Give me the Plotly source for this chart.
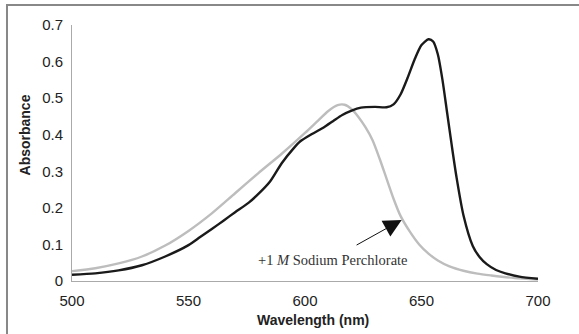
import plotly.graph_objects as go

# Data: absorbance spectra
wl_black = [500, 510, 520, 530, 540, 550, 555, 560, 565, 570, 576, 580, 585, 590, 595, 598,
            603, 608, 612, 616, 620, 624, 630, 635, 638, 641, 644, 647, 650, 653, 655,
            657, 659, 661, 663, 665, 668, 672, 675, 678, 682, 686, 692, 700]
abs_black = [0.017, 0.021, 0.029, 0.043, 0.067, 0.098, 0.120, 0.142, 0.165, 0.188, 0.215,
             0.238, 0.272, 0.322, 0.362, 0.382, 0.402, 0.420, 0.437, 0.454, 0.466, 0.474,
             0.476, 0.475, 0.483, 0.510, 0.555, 0.605, 0.645, 0.661, 0.655, 0.620, 0.550,
             0.460, 0.370, 0.285, 0.180, 0.096, 0.065, 0.046, 0.030, 0.021, 0.012, 0.006]

wl_gray = [500, 510, 520, 530, 540, 550, 560, 570, 580, 590, 600, 605, 610, 614, 617,
           620, 623, 626, 629, 632, 635, 638, 641, 645, 649, 653, 657, 662, 668, 674,
           680, 690, 700]
abs_gray = [0.027, 0.035, 0.048, 0.067, 0.097, 0.137, 0.185, 0.240, 0.295, 0.348, 0.405,
            0.435, 0.465, 0.481, 0.482, 0.470, 0.448, 0.420, 0.385, 0.335, 0.280, 0.225,
            0.178, 0.135, 0.100, 0.075, 0.056, 0.040, 0.028, 0.020, 0.015, 0.008, 0.004]

x_ticks = [500, 550, 600, 650, 700]
y_ticks = [0, 0.1, 0.2, 0.3, 0.4, 0.5, 0.6, 0.7]
y_labels = ["0", "0.1", "0.2", "0.3", "0.4", "0.5", "0.6", "0.7"]

label_text = "+1 <i>M</i> Sodium Perchlorate"
label_pos = (612, 0.057)
arrow_tip = (641.5, 0.167)
arrow_tail = (621.5, 0.096)

fig = go.Figure()
fig.add_trace(go.Scatter(x=wl_gray, y=abs_gray, mode="lines",
                         line=dict(color="#bdbdbd", width=2.4, shape="spline", smoothing=0.7),
                         showlegend=False, hoverinfo="skip"))
fig.add_trace(go.Scatter(x=wl_black, y=abs_black, mode="lines",
                         line=dict(color="#1a1a1a", width=2.4, shape="spline", smoothing=0.7),
                         showlegend=False, hoverinfo="skip"))

fig.update_layout(
    width=579, height=334,
    margin=dict(l=72, r=41, t=25, b=53),
    paper_bgcolor="white", plot_bgcolor="white",
    font=dict(family="Liberation Sans, Arial, sans-serif", size=15, color="#222"),
    xaxis=dict(range=[500, 700], tickvals=x_ticks, ticktext=[str(v) for v in x_ticks],
               showgrid=False, zeroline=False, showline=True, linecolor="#aaaaaa",
               linewidth=1, ticks="", ticklabelstandoff=6, fixedrange=True),
    yaxis=dict(range=[0, 0.7], tickvals=y_ticks, ticktext=y_labels,
               showgrid=False, zeroline=False, showline=True, linecolor="#aaaaaa",
               linewidth=1, ticks="", ticklabelstandoff=5, fixedrange=True),
    shapes=[
        dict(type="line", xref="paper", yref="paper", x0=-0.1395, x1=1.1, y0=1.078, y1=1.078,
             line=dict(color="#888888", width=2)),
        dict(type="line", xref="paper", yref="paper", x0=-0.1395, x1=-0.1395, y0=1.082, y1=-0.25,
             line=dict(color="#888888", width=2)),
    ],
    annotations=[
        dict(text="<b>Absorbance</b>", xref="paper", yref="paper", x=-0.1, y=0.57,
             textangle=-90, showarrow=False, font=dict(size=14, color="#222"),
             xanchor="center", yanchor="middle"),
        dict(text="<b>Wavelength (nm)</b>", xref="paper", yref="paper", x=0.518, y=-0.152,
             showarrow=False, font=dict(size=14, color="#222"),
             xanchor="center", yanchor="middle"),
        dict(text=label_text, x=label_pos[0], y=label_pos[1], xref="x", yref="y",
             showarrow=False, font=dict(family="Liberation Serif, Times New Roman, serif",
                                        size=14.5, color="#333"),
             xanchor="center", yanchor="middle"),
        dict(text="", x=arrow_tip[0], y=arrow_tip[1], xref="x", yref="y",
             ax=arrow_tail[0], ay=arrow_tail[1], axref="x", ayref="y",
             showarrow=True, arrowhead=2, arrowsize=3.6, arrowwidth=1, arrowcolor="#111"),
    ],
)

fig.write_html("out.html")
